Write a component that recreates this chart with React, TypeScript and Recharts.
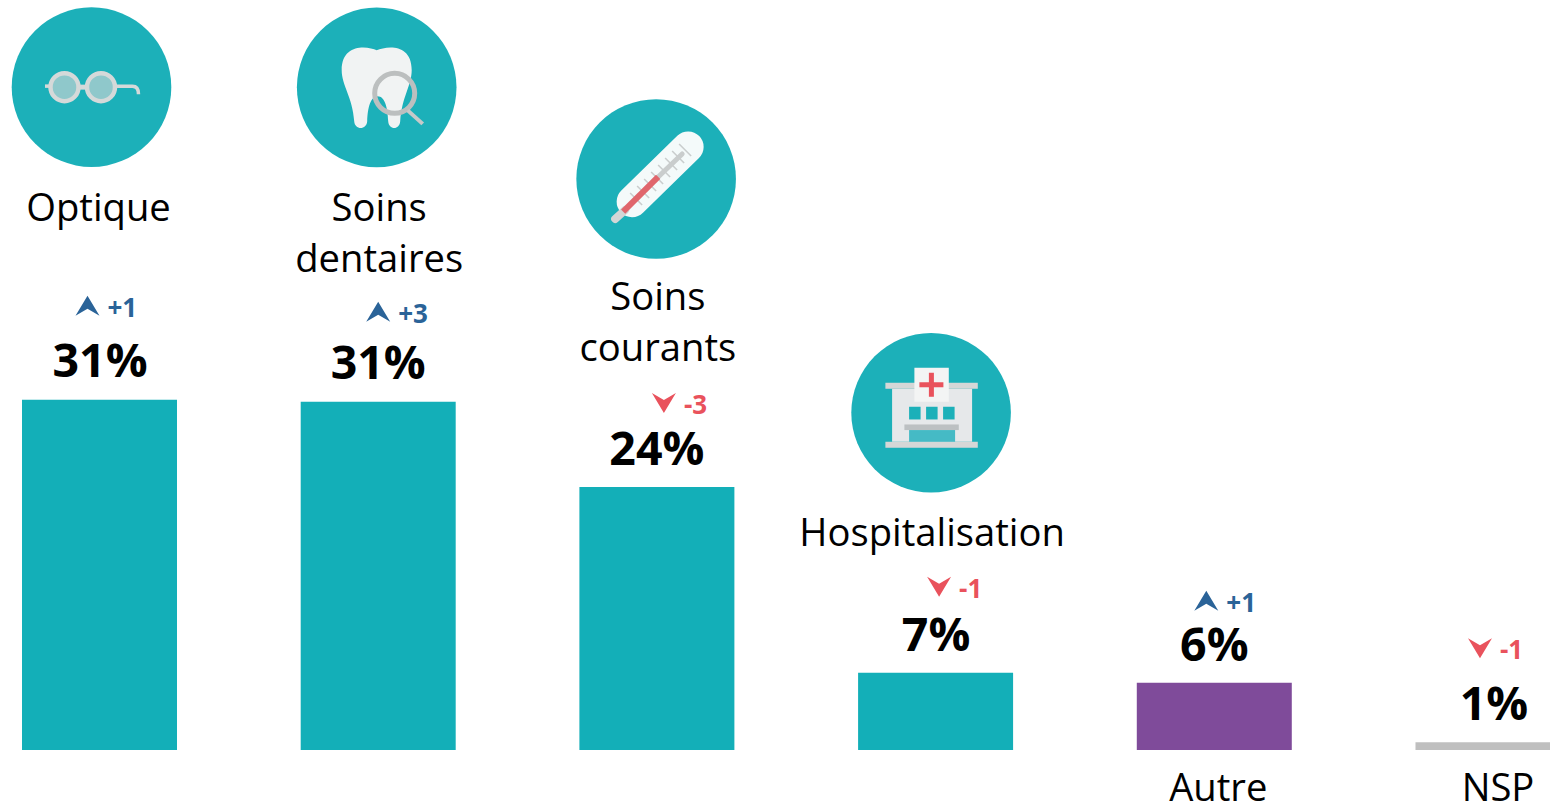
import { Bar, BarChart, Cell, LabelList, XAxis, YAxis } from "recharts";

const categories = ["Optique", "Soins dentaires", "Soins courants", "Hospitalisation", "Autre", "NSP"];
const values = [31.3, 31.1, 23.5, 6.9, 6.0, 0.7];
const valueLabels = ["31%", "31%", "24%", "7%", "6%", "1%"];
const deltas = [1, 3, -3, -1, 1, -1];

const TEAL = "#13afb8";
const CIRCLE = "#1cb0b9";
const BLUE = "#2a6398";
const RED = "#e9525c";
const barColors = [TEAL, TEAL, TEAL, TEAL, "#7f4b9a", "#bfbfbf"];

const FONT = "'Open Sans', sans-serif";
const STEP = 278.7;
const BASELINE = 750;
const LINE_HEIGHT = 51;

// annotation offsets from each bar's top centre
const iconOffsets = [[-8, -312.5], [-1.5, -314.5], [-0.75, -308], [-4.5, -260], null, null];
const labelOffsets = [[-1, -179], [1, -181], [1, -177], [-3.5, -127], [4, 118], [5, 59]];
const labelLines = [["Optique"], ["Soins", "dentaires"], ["Soins", "courants"], ["Hospitalisation"], ["Autre"], ["NSP"]];
const valueOffsets = [[0.5, -23], [0, -23], [0, -22], [0.5, -22], [0, -22], [1, -22]];
const deltaOffsets = [[-12, -94], [0, -90], [7, -84], [3.5, -86], [-8, -82], [-13, -94]];

const data = categories.map((name, i) => ({ name, value: values[i] }));

const Glasses = () => (
  <g>
    <path d="M24 -1 L41 -1 Q47 -1 47 7" fill="none" stroke="#d5d9d9" strokeWidth={3.5} />
    <path d="M-12 0 L-4 0" stroke="#d5d9d9" strokeWidth={5} />
    <path d="M-46.5 -1 L-41 -1" stroke="#d5d9d9" strokeWidth={3.5} />
    <circle cx={-27} cy={0} r={14} fill="#8fc8cb" stroke="#d5d9d9" strokeWidth={4.5} />
    <circle cx={9.5} cy={0} r={14} fill="#8fc8cb" stroke="#d5d9d9" strokeWidth={4.5} />
  </g>
);

const Tooth = () => (
  <g>
    <path
      d="M0 -37 C-8 -41 -35 -45 -35 -17 C-35 -2 -24 10 -22.5 34 C-22 43 -10 43 -9.5 34 C-9 20 -6 9 1 9 C8 9 11 20 11.5 34 C12 43 23 43 23.5 34 C25 10 35 -2 35 -17 C35 -45 9 -41 0 -37 Z"
      fill="#f1f3f3"
    />
    <circle cx={18} cy={6} r={20} fill="none" stroke="#bcbfbf" strokeWidth={5} />
    <line x1={31} y1={23} x2={46} y2={36.5} stroke="#c6c9c9" strokeWidth={4} />
  </g>
);

const thermometerTicks = [-20, -13, -6, 1, 8, 15, 22, 29];

const Thermometer = () => (
  <g>
    <line x1={-24} y1={22.7} x2={32} y2={-32} stroke="#f4fafa" strokeWidth={31} strokeLinecap="round" />
    <line x1={-41} y1={40} x2={-31} y2={31} stroke="#d3d6d6" strokeWidth={8} strokeLinecap="round" />
    {thermometerTicks.map((t) => (
      <line key={t} x1={t - 6} y1={-t - 6} x2={t + 6} y2={-t + 6} stroke="#c9cdcd" strokeWidth={1.6} />
    ))}
    <line x1={2} y1={-2} x2={26} y2={-25} stroke="#c9cdcd" strokeWidth={5} strokeLinecap="round" />
    <line x1={-33} y1={32.7} x2={2} y2={-2} stroke="#e0666c" strokeWidth={6} />
  </g>
);

const Hospital = () => (
  <g>
    <rect x={-39} y={-24} width={80} height={53} fill="#e6e8ea" />
    <rect x={-45.7} y={-30} width={92.4} height={6} fill="#d5d7d7" />
    <rect x={-45.7} y={29} width={92.4} height={6} fill="#d5d7d7" />
    <rect x={-16.7} y={-45} width={34.4} height={34} fill="#f3f4f4" />
    <rect x={-11.7} y={-30.5} width={24} height={5} fill={RED} />
    <rect x={-2.2} y={-40} width={5} height={24} fill={RED} />
    <rect x={-22} y={-6} width={11.5} height={12.7} fill={CIRCLE} />
    <rect x={-5} y={-6} width={11.5} height={12.7} fill={CIRCLE} />
    <rect x={12} y={-6} width={11.5} height={12.7} fill={CIRCLE} />
    <rect x={-26.7} y={11.7} width={54.4} height={5.6} fill="#bcc0c2" />
    <rect x={-22} y={17.3} width={46} height={11.7} fill="#45bac5" />
  </g>
);

const icons = [<Glasses />, <Tooth />, <Thermometer />, <Hospital />, null, null];

const Annotation = ({ x, y, width, index }: any) => {
  const cx = x + width / 2;
  const icon = iconOffsets[index];
  const [labelDx, labelDy] = labelOffsets[index];
  const [valueDx, valueDy] = valueOffsets[index];
  const [deltaDx, deltaDy] = deltaOffsets[index];
  const delta = deltas[index];
  const up = delta > 0;
  return (
    <g>
      {icon && (
        <g transform={`translate(${cx + icon[0]},${y + icon[1]})`}>
          <circle r={79.8} fill={CIRCLE} />
          {icons[index]}
        </g>
      )}
      <text x={cx + labelDx} y={y + labelDy} textAnchor="middle" fontFamily={FONT} fontSize={38.2} fill="#000">
        {labelLines[index].map((line, i) => (
          <tspan key={line} x={cx + labelDx} dy={i === 0 ? 0 : LINE_HEIGHT}>
            {line}
          </tspan>
        ))}
      </text>
      <text x={cx + valueDx} y={y + valueDy} textAnchor="middle" fontFamily={FONT} fontSize={46.5} fontWeight={700} fill="#000">
        {valueLabels[index]}
      </text>
      <g transform={`translate(${cx + deltaDx},${y + deltaDy})`}>
        <path
          d={up ? "M-12 10 L0 -10 L12 10 L0 3 Z" : "M-12 -10 L0 10 L12 -10 L0 -3 Z"}
          fill={up ? BLUE : RED}
        />
        <text x={20} y={11} fontFamily={FONT} fontSize={26} fontWeight={700} fill={up ? BLUE : RED}>
          {up ? `+${delta}` : `${delta}`}
        </text>
      </g>
    </g>
  );
};

export default function App() {
  return (
    <div style={{ position: "absolute", left: 0, top: 0, width: 1550, height: 806, overflow: "hidden", background: "#fff" }}>
      <div style={{ position: "absolute", left: -39.85, top: 0 }}>
        <BarChart
          width={STEP * categories.length}
          height={806}
          data={data}
          margin={{ top: 0, right: 0, bottom: 806 - BASELINE, left: 0 }}
        >
          <XAxis dataKey="name" hide />
          <YAxis hide domain={[0, 67]} />
          <Bar dataKey="value" barSize={155} isAnimationActive={false}>
            {categories.map((name, i) => (
              <Cell key={name} fill={barColors[i]} />
            ))}
            <LabelList dataKey="value" content={Annotation} />
          </Bar>
        </BarChart>
      </div>
    </div>
  );
}
